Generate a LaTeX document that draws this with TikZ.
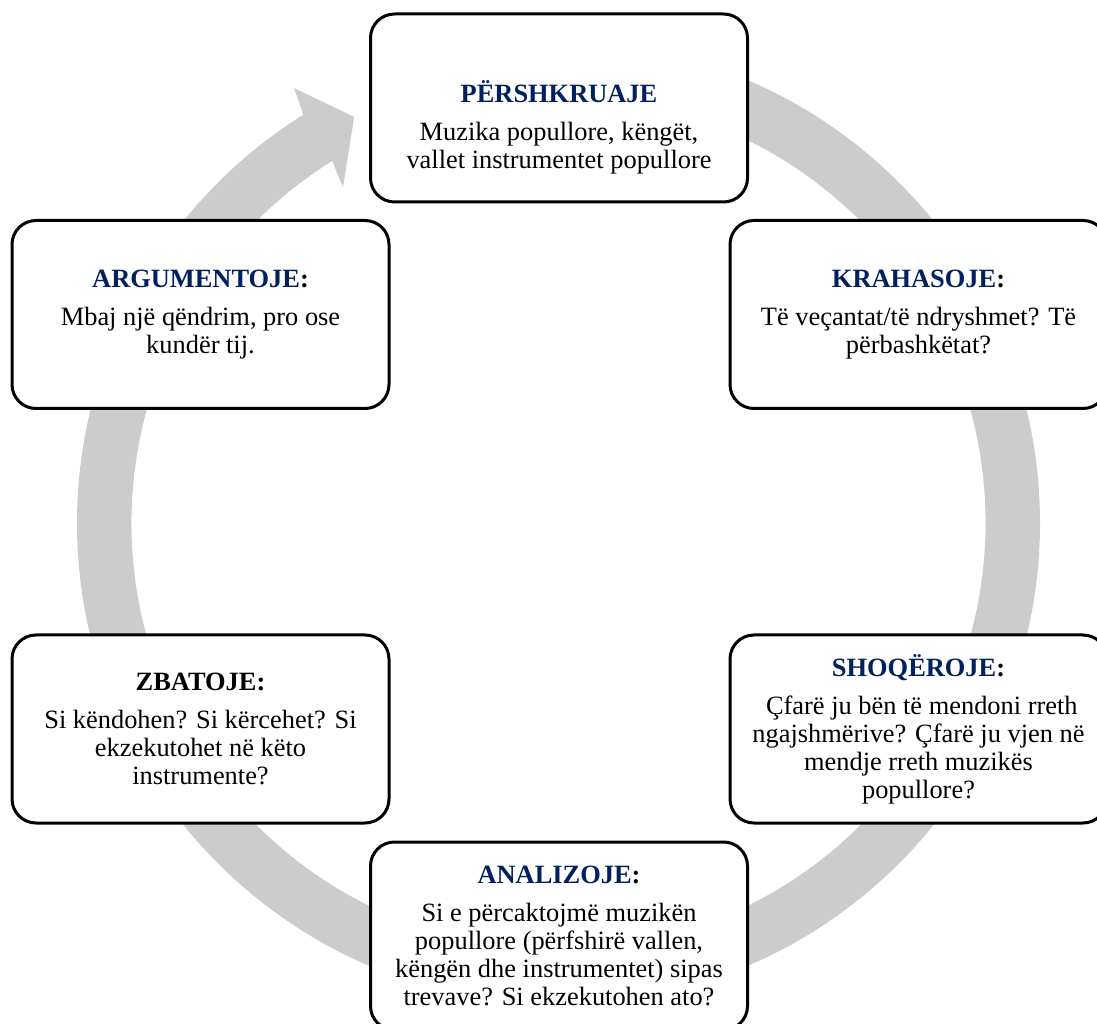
\documentclass[tikz,border=0pt]{standalone}
\usepackage{fontspec}
\setmainfont{Liberation Serif}
\definecolor{headblue}{RGB}{0,32,96}
\definecolor{ringgray}{RGB}{204,204,204}
\tikzset{
  card/.style={draw, fill=white, line width=1.5pt, rounded corners=12pt,
    minimum width=188.5pt, minimum height=94pt, align=center,
    font=\fontsize{13.2pt}{14pt}\selectfont},
}
\newcommand{\hd}[1]{{\bfseries\color{headblue}#1}}
\begin{document}
\begin{tikzpicture}[x=0.5pt, y=0.5pt]
\useasboundingbox (0,0) rectangle (1097,1023);
% grey cycle arrow
\fill[ringgray, shift={(558.5,500)}] (90:481.5) arc[start angle=90, end angle=-238, radius=481.5]
  -- (-238.7:509) -- (-243.3:454.6) -- (-237.3:399) -- (-238:427)
  arc[start angle=-238, end angle=90, radius=427] -- cycle;
% boxes
\node[card] (stage0) at (559,915) {\mbox{}\\[16pt]\hd{PËRSHKRUAJE}\\[5pt]
  Muzika popullore, këngët,\\ vallet instrumentet popullore};
\node[card] (stage1) at (918.5,708.5) {{\bfseries\hd{KRAHASOJE}:}\\[5pt]
  Të veçantat/të ndryshmet? Të\\ përbashkëtat?};
\node[card] (stage2) at (918.5,294) {{\bfseries\hd{SHOQËROJE}:}\\[5pt]
  \ Çfarë ju bën të mendoni rreth\\ ngajshmërive? Çfarë ju vjen në\\
  mendje rreth muzikës\\ popullore?};
\node[card] (stage3) at (559,87) {{\bfseries\hd{ANALIZOJE}:}\\[5pt]
  Si e përcaktojmë muzikën\\ popullore (përfshirë vallen,\\
  këngën dhe instrumentet) sipas\\ trevave? Si ekzekutohen ato?};
\node[card] (stage4) at (200.5,294) {{\bfseries ZBATOJE:}\\[5pt]
  Si këndohen? Si kërcehet? Si\\ ekzekutohet në këto\\ instrumente?};
\node[card] (stage5) at (200.5,708.5) {{\bfseries\hd{ARGUMENTOJE}:}\\[5pt]
  Mbaj një qëndrim, pro ose\\ kundër tij.};
\end{tikzpicture}
\end{document}
